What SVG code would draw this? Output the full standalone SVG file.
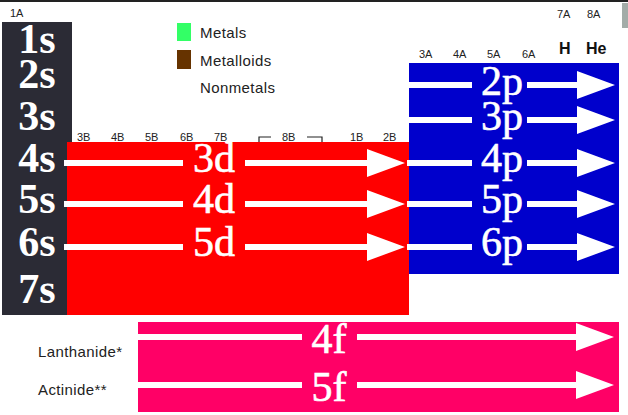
<svg xmlns="http://www.w3.org/2000/svg" width="628" height="415" viewBox="0 0 628 415">
<style>
.sm{font-family:"Liberation Sans","DejaVu Sans",sans-serif;font-size:11px;fill:#222}
.lg{font-family:"Liberation Sans","DejaVu Sans",sans-serif;font-size:15px;letter-spacing:0.4px;fill:#222}
.hh{font-family:"Liberation Sans","DejaVu Sans",sans-serif;font-size:16px;font-weight:bold;fill:#111}
.s{font-family:"Liberation Serif","DejaVu Serif",serif;font-size:42px;font-weight:bold;fill:#fff;text-anchor:middle}
.o{font-family:"Liberation Serif","DejaVu Serif",serif;font-size:42px;fill:#fff;stroke:#fff;stroke-width:0.6;text-anchor:middle}
.ln{stroke:#fff;stroke-width:6;fill:none}
.hd{fill:#fff}
</style>
<rect x="0" y="0" width="628" height="415" fill="#fff"/>
<rect x="0" y="0" width="628" height="2" fill="#222"/>
<rect x="622" y="3" width="6" height="25" fill="#a3aca8"/>
<g id="block-s">
<rect x="2" y="22" width="70" height="293" fill="#2b2b35"/>
</g>
<g id="block-d">
<rect x="67" y="142" width="342" height="173" fill="#ff0000"/>
</g>
<g id="block-p">
<rect x="409" y="63" width="210" height="211" fill="#0000cc"/>
</g>
<g id="block-f">
<rect x="138" y="322" width="481" height="90" fill="#ff0066"/>
</g>
<g id="group-labels">
<text class="sm" x="10" y="17">1A</text>
<text class="sm" x="557" y="18">7A</text>
<text class="sm" x="587" y="18">8A</text>
<text class="hh" x="559" y="54">H</text>
<text class="hh" x="586" y="54">He</text>
<text class="sm" x="419" y="58">3A</text>
<text class="sm" x="453" y="58">4A</text>
<text class="sm" x="487" y="58">5A</text>
<text class="sm" x="522" y="58">6A</text>
<text class="sm" x="77" y="141">3B</text>
<text class="sm" x="111" y="141">4B</text>
<text class="sm" x="145" y="141">5B</text>
<text class="sm" x="180" y="141">6B</text>
<text class="sm" x="214" y="141">7B</text>
<text class="sm" x="282" y="141">8B</text>
<text class="sm" x="350" y="141">1B</text>
<text class="sm" x="383" y="141">2B</text>
<path d="M259 142 V137 H271 M307 137 H322 V142" stroke="#222" stroke-width="1.2" fill="none"/>
</g>
<g id="legend">
<rect x="177" y="23" width="14" height="18" fill="#33ff66"/>
<rect x="177" y="50" width="14" height="19" fill="#663300"/>
<text class="lg" x="200" y="38">Metals</text>
<text class="lg" x="200" y="66">Metalloids</text>
<text class="lg" x="200" y="93">Nonmetals</text>
<text class="lg" x="38" y="357">Lanthanide*</text>
<text class="lg" x="38" y="395">Actinide**</text>
</g>
<g id="s-labels">
<text class="s" x="37" y="53">1s</text>
<text class="s" x="37" y="88">2s</text>
<text class="s" x="37" y="130">3s</text>
<text class="s" x="37" y="172">4s</text>
<text class="s" x="37" y="213">5s</text>
<text class="s" x="37" y="256">6s</text>
<text class="s" x="37" y="303">7s</text>
</g>
<g id="connectors">
<path class="ln" d="M64 163 H183 M245 163 H368 M64 204 H183 M245 204 H368 M64 247 H183 M245 247 H368"/>
<path class="hd" d="M367 149 L405 163 L367 177 Z M367 190 L405 204 L367 218 Z M367 233 L405 247 L367 261 Z"/>
<path class="ln" d="M408 85 H472 M527 85 H578 M408 120 H472 M527 120 H578 M407 163 H472 M527 163 H578 M407 204 H472 M527 204 H578 M407 247 H472 M527 247 H578"/>
<path class="hd" d="M577 71 L615 85 L577 99 Z M577 106 L615 120 L577 134 Z M577 149 L615 163 L577 177 Z M577 190 L615 204 L577 218 Z M577 233 L615 247 L577 261 Z"/>
<path class="ln" d="M138 337 H302 M357 337 H577 M138 385 H302 M357 385 H577"/>
<path class="hd" d="M576 323 L614 337 L576 351 Z M576 371 L614 385 L576 399 Z"/>
</g>
<g id="orbital-labels">
<text class="o" x="214" y="172">3d</text>
<text class="o" x="214" y="213">4d</text>
<text class="o" x="214" y="256">5d</text>
<text class="o" x="502" y="95">2p</text>
<text class="o" x="502" y="130">3p</text>
<text class="o" x="502" y="172">4p</text>
<text class="o" x="502" y="213">5p</text>
<text class="o" x="502" y="256">6p</text>
<text class="o" x="329" y="353">4f</text>
<text class="o" x="329" y="401">5f</text>
</g>
</svg>
